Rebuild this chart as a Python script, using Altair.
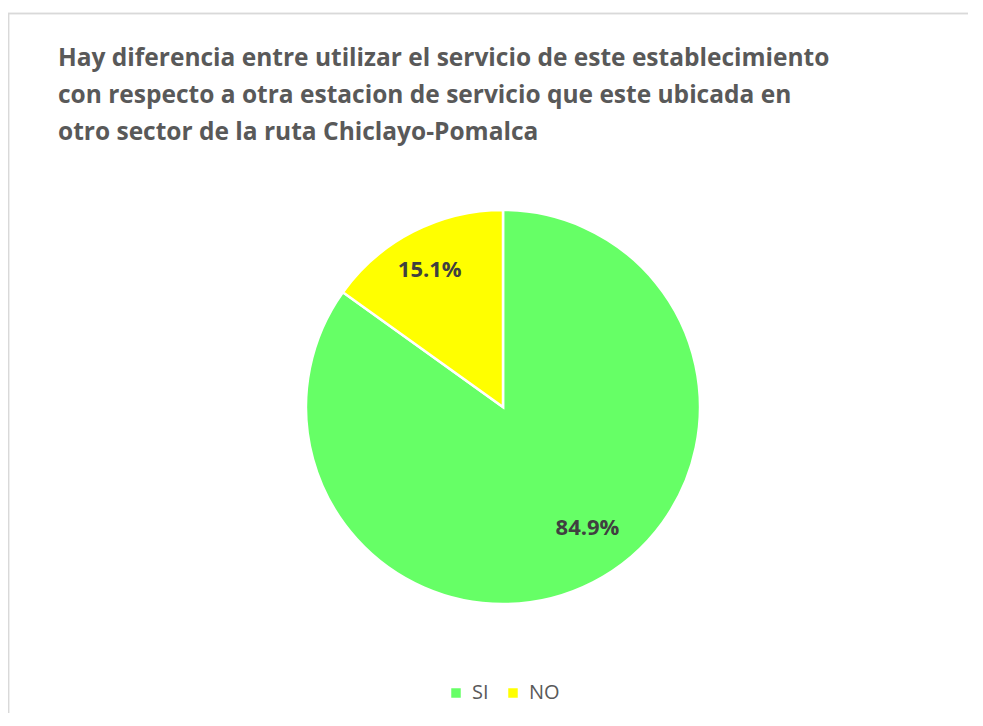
import altair as alt
import pandas as pd

categories = ["SI", "NO"]
values = [84.9, 15.1]
labels = ["84.9%", "15.1%"]
colors = ["#66FF66", "#FFFF00"]
title_lines = [
    "Hay diferencia entre utilizar el servicio de este establecimiento",
    "con respecto a otra estacion de servicio que este ubicada en",
    "otro sector de la ruta Chiclayo-Pomalca",
]

df = pd.DataFrame({"cat": categories, "value": values, "label": labels, "ord": [0, 1]})

CX, CY = 495, 394
theta_scale = alt.Scale(domain=[0, 100])

color_enc = alt.Color(
    "cat:N",
    scale=alt.Scale(domain=categories, range=colors),
    sort=categories,
    legend=alt.Legend(
        title=None, orient="none", direction="horizontal",
        legendX=438, legendY=670,
        symbolType="square", symbolSize=90, symbolStrokeWidth=0,
        labelFont="Open Sans", labelFontSize=20, labelColor="#595959",
        columnPadding=14, labelOffset=6,
    ),
)

pie = alt.Chart(df).mark_arc(outerRadius=197, stroke="white", strokeWidth=2.5).encode(
    theta=alt.Theta("value:Q", stack=True, scale=theta_scale),
    order=alt.Order("ord:Q"),
    color=color_enc,
    x=alt.value(CX), y=alt.value(CY),
)

txt_base = alt.Chart(df).transform_window(
    cum="sum(value)", sort=[alt.SortField("ord")]
).transform_calculate(mid="datum.cum - datum.value / 2")

def label_layer(cat, radius, dx, dy):
    return txt_base.transform_filter(alt.datum.cat == cat).mark_text(
        radius=radius, font="Open Sans", fontSize=22, fontWeight="bold",
        color="#404040", dx=dx, dy=dy,
    ).encode(
        theta=alt.Theta("mid:Q", scale=theta_scale, stack=None),
        text="label:N",
        x=alt.value(CX), y=alt.value(CY),
    )

txt_si = label_layer("SI", 150, 16, -12)
txt_no = label_layer("NO", 156, -2, 2)

top_rule = alt.Chart(df).mark_rule(color="#d9d9d9", strokeWidth=1.5).encode(
    x=alt.value(0), x2=alt.value(975), y=alt.value(0.5)
)
left_rule = alt.Chart(df).mark_rule(color="#d9d9d9", strokeWidth=1.5).encode(
    x=alt.value(0.5), y=alt.value(0), y2=alt.value(713)
)

chart = alt.layer(top_rule, left_rule, pie, txt_si, txt_no).properties(
    width=960, height=700, autosize="none",
    padding={"left": 0, "top": 5, "right": 0, "bottom": 0},
    title=alt.TitleParams(
        text=title_lines, anchor="start", frame="group", orient="top",
        font="Open Sans", fontSize=24.5, fontWeight="bold", color="#595959",
        lineHeight=37, offset=0, dx=50, dy=133,
    ),
).configure_view(stroke=None)

chart.save("out.html", embed_options={"renderer": "svg", "actions": False})
